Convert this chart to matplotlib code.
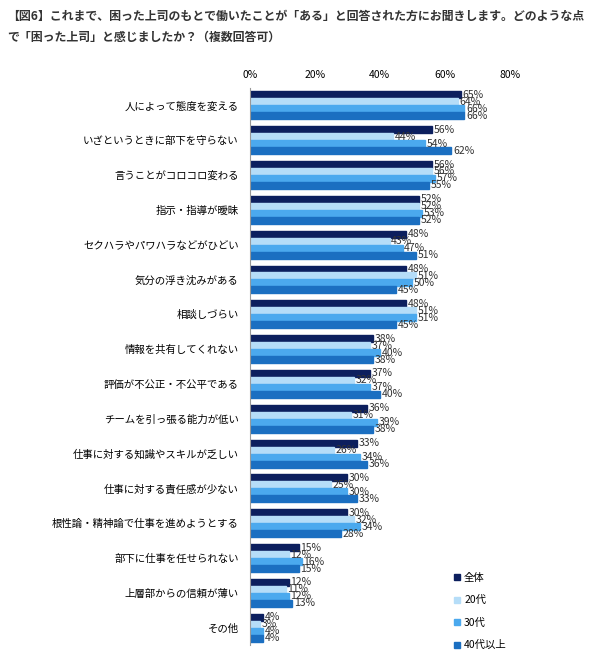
import matplotlib
matplotlib.use("Agg")
import matplotlib.pyplot as plt
import numpy as np
from matplotlib.lines import Line2D

plt.rcParams['font.family'] = ['Noto Sans CJK JP']

categories = ["人によって態度を変える","いざというときに部下を守らない","言うことがコロコロ変わる","指示・指導が曖昧",
 "セクハラやパワハラなどがひどい","気分の浮き沈みがある","相談しづらい","情報を共有してくれない",
 "評価が不公正・不公平である","チームを引っ張る能力が低い","仕事に対する知識やスキルが乏しい","仕事に対する責任感が少ない",
 "根性論・精神論で仕事を進めようとする","部下に仕事を任せられない","上層部からの信頼が薄い","その他"]
series_names = ["全体","20代","30代","40代以上"]
all_v = [65,56,56,52,48,48,48,38,37,36,33,30,30,15,12,4]
v20 = [64,44,56,52,43,51,51,37,32,31,26,25,32,12,11,3]
v30 = [66,54,57,53,47,50,51,40,37,39,34,30,34,16,12,4]
v40 = [66,62,55,52,51,45,45,38,40,38,36,33,28,15,13,4]
colors = ["#0c1f5e","#b5ddf8","#4ba9ee","#1b6fc1"]

fig = plt.figure(figsize=(6.02,6.61), dpi=100)
ax = fig.add_axes([0.415,0.024,0.432,0.843])
n = len(categories)
y = np.arange(n)
h = 0.2
for i,(vals,c) in enumerate(zip([all_v,v20,v30,v40],colors)):
    pos = y - 0.3 + i*h
    ax.barh(pos, vals, height=h, color=c, edgecolor=c)
    for p,v in zip(pos,vals):
        ax.text(v+0.5, p, f"{v}%", va='center', ha='left', fontsize=7.5, color='#333333')
ax.set_ylim(n-0.5, -0.5)
ax.set_xlim(0,80)
ax.set_xticks([0,20,40,60,80])
ax.set_xticklabels(["0%","20%","40%","60%","80%"], fontsize=7.5)
ax.xaxis.tick_top()
ax.tick_params(axis='x', length=0, pad=6)
ax.set_yticks(y)
ax.set_yticklabels(categories, fontsize=7.5)
ax.tick_params(axis='y', length=0, pad=8)
for s in ['top','right','bottom']:
    ax.spines[s].set_visible(False)
ax.spines['left'].set_color('#999999')

handles = [Line2D([],[],marker='s',linestyle='',color=c,markersize=5) for c in colors]
fig.legend(handles, series_names, loc='upper left', bbox_to_anchor=(0.745,0.14), frameon=False,
           fontsize=7.5, labelspacing=1.2, handletextpad=0.3, handlelength=0.8, borderaxespad=0)

fig.text(0.012,0.975,"【図6】これまで、困った上司のもとで働いたことが「ある」と回答された方にお聞きします。どのような点",
         fontsize=8.6, fontweight='bold', color='#333333', va='center')
fig.text(0.012,0.943,"で「困った上司」と感じましたか？（複数回答可）",
         fontsize=8.6, fontweight='bold', color='#333333', va='center')
fig.savefig("out.png", dpi=100)
